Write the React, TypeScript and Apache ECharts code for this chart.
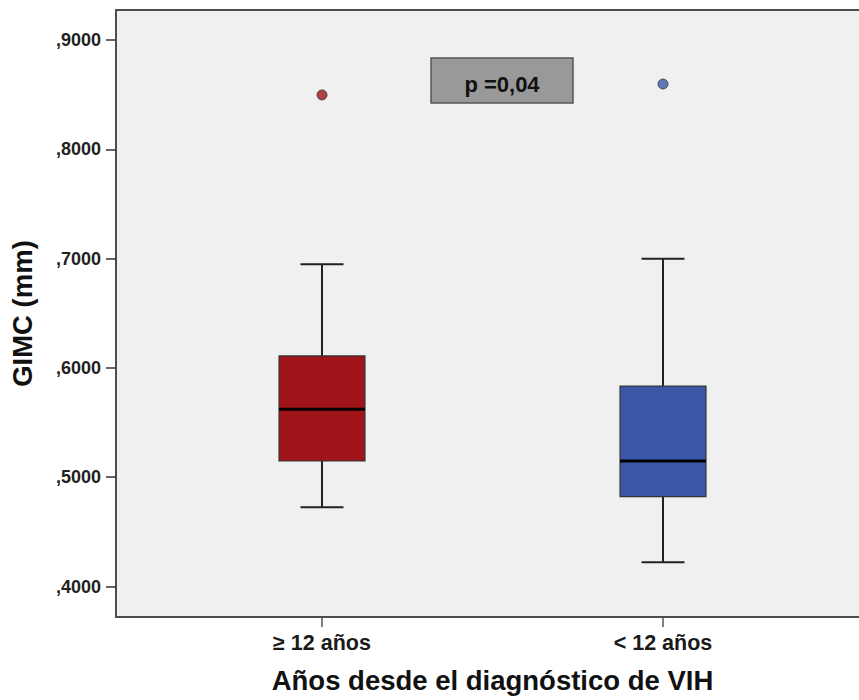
import React, { useEffect, useRef } from "react";
import * as echarts from "echarts";

const categories = ["\u2265 12 a\u00f1os", "< 12 a\u00f1os"];
const lowWhisker = [0.4725, 0.4221];
const q1 = [0.5148, 0.4822];
const median = [0.5621, 0.5148];
const q3 = [0.6109, 0.5834];
const highWhisker = [0.6948, 0.6999];
const outliers: [number, number][] = [
  [0, 0.8497],
  [1, 0.8597],
];
const yTickValues = [0.4, 0.5, 0.6, 0.7, 0.8, 0.9];
const boxColors = ["#a01519", "#3c57a8"];
const pText = "p =0,04";

const FONT = "'Liberation Sans', Arial, sans-serif";
const Y_MIN = 0.3721;
const Y_MAX = 0.9274;
const FRAME = { color: "#4d4d4d", width: 2 };

export default function App() {
  const ref = useRef<HTMLDivElement>(null);
  useEffect(() => {
    if (!ref.current) return;
    const chart = echarts.init(ref.current, null, { renderer: "svg" });
    const boxData = categories.map((_, i) => [
      i,
      lowWhisker[i],
      q1[i],
      median[i],
      q3[i],
      highWhisker[i],
    ]);
    const option: any = {
      animation: false,
      backgroundColor: "#ffffff",
      grid: [
        {
          left: 115,
          right: 0,
          top: 10,
          bottom: 83,
          show: true,
          backgroundColor: "#f0f0f0",
          borderWidth: 0,
        },
        { left: 151.5, right: 25.5, top: 10, bottom: 83 },
      ],
      xAxis: [
        {
          gridIndex: 0,
          type: "value",
          min: 0,
          max: 1,
          position: "bottom",
          axisLine: { show: true, lineStyle: FRAME },
          axisTick: { show: false },
          axisLabel: { show: false },
          splitLine: { show: false },
        },
        {
          gridIndex: 0,
          type: "value",
          min: 0,
          max: 1,
          position: "top",
          axisLine: { show: true, lineStyle: FRAME },
          axisTick: { show: false },
          axisLabel: { show: false },
          splitLine: { show: false },
        },
        {
          gridIndex: 1,
          type: "category",
          data: categories,
          axisLine: { show: false },
          axisTick: {
            show: true,
            alignWithLabel: true,
            length: 10,
            lineStyle: { color: "#555", width: 1.5 },
          },
          axisLabel: {
            margin: 15,
            fontFamily: FONT,
            fontWeight: "bold",
            fontSize: 21.5,
            color: "#1a1a1a",
          },
          name: "A\u00f1os desde el diagn\u00f3stico de VIH",
          nameLocation: "middle",
          nameGap: 49,
          nameTextStyle: {
            fontFamily: FONT,
            fontWeight: "bold",
            fontSize: 27.5,
            color: "#111",
          },
          splitLine: { show: false },
        },
      ],
      yAxis: [
        {
          gridIndex: 0,
          type: "value",
          min: Y_MIN,
          max: Y_MAX,
          axisLine: { show: true, lineStyle: FRAME },
          axisTick: {
            show: true,
            length: 10,
            customValues: yTickValues,
            lineStyle: { color: "#333", width: 1.5 },
          },
          axisLabel: {
            customValues: yTickValues,
            margin: 15,
            fontFamily: FONT,
            fontWeight: "bold",
            fontSize: 18,
            color: "#222",
            formatter: (v: number) => "," + v.toFixed(4).slice(2),
          },
          splitLine: { show: false },
          name: "GIMC (mm)",
          nameLocation: "middle",
          nameGap: 80,
          nameTextStyle: {
            fontFamily: FONT,
            fontWeight: "bold",
            fontSize: 27.5,
            color: "#111",
          },
        },
        {
          gridIndex: 1,
          type: "value",
          min: Y_MIN,
          max: Y_MAX,
          show: false,
          splitLine: { show: false },
        },
      ],
      series: [
        {
          type: "custom",
          xAxisIndex: 2,
          yAxisIndex: 1,
          data: boxData,
          encode: { x: 0, y: [1, 2, 3, 4, 5] },
          renderItem: (params: any, api: any) => {
            const idx = api.value(0);
            const bandW = api.size([1, 0])[0];
            const boxW = bandW * 0.252;
            const capW = boxW / 2;
            const pLow = api.coord([idx, api.value(1)]);
            const pQ1 = api.coord([idx, api.value(2)]);
            const pMed = api.coord([idx, api.value(3)]);
            const pQ3 = api.coord([idx, api.value(4)]);
            const pHigh = api.coord([idx, api.value(5)]);
            const cx = pMed[0];
            const lineStyle = { stroke: "#222", lineWidth: 2 };
            return {
              type: "group",
              children: [
                { type: "line", shape: { x1: cx, y1: pHigh[1], x2: cx, y2: pQ3[1] }, style: lineStyle },
                { type: "line", shape: { x1: cx, y1: pQ1[1], x2: cx, y2: pLow[1] }, style: lineStyle },
                { type: "line", shape: { x1: cx - capW / 2, y1: pHigh[1], x2: cx + capW / 2, y2: pHigh[1] }, style: lineStyle },
                { type: "line", shape: { x1: cx - capW / 2, y1: pLow[1], x2: cx + capW / 2, y2: pLow[1] }, style: lineStyle },
                {
                  type: "rect",
                  shape: { x: cx - boxW / 2, y: pQ3[1], width: boxW, height: pQ1[1] - pQ3[1] },
                  style: { fill: boxColors[params.dataIndex], stroke: "#333", lineWidth: 1.2 },
                },
                {
                  type: "line",
                  shape: { x1: cx - boxW / 2, y1: pMed[1], x2: cx + boxW / 2, y2: pMed[1] },
                  style: { stroke: "#000", lineWidth: 3 },
                },
              ],
            };
          },
        },
        {
          type: "scatter",
          xAxisIndex: 2,
          yAxisIndex: 1,
          symbolSize: 10,
          data: outliers.map((o) => ({
            value: o,
            itemStyle: { color: boxColors[o[0]], borderColor: "#333", borderWidth: 1 },
          })),
        },
      ],
      graphic: [
        {
          type: "rect",
          shape: { x: 431, y: 58, width: 142, height: 45 },
          style: { fill: "#999999", stroke: "#555", lineWidth: 1.5 },
        },
        {
          type: "text",
          x: 502,
          y: 84,
          style: {
            text: pText,
            fontFamily: FONT,
            fontWeight: "bold",
            fontSize: 22,
            fill: "#111",
            align: "center",
            verticalAlign: "middle",
          },
        },
      ],
    };
    chart.setOption(option);
    return () => chart.dispose();
  }, []);
  return (
    <div
      ref={ref}
      style={{ position: "absolute", left: 0, top: 0, width: 859, height: 700 }}
    />
  );
}
